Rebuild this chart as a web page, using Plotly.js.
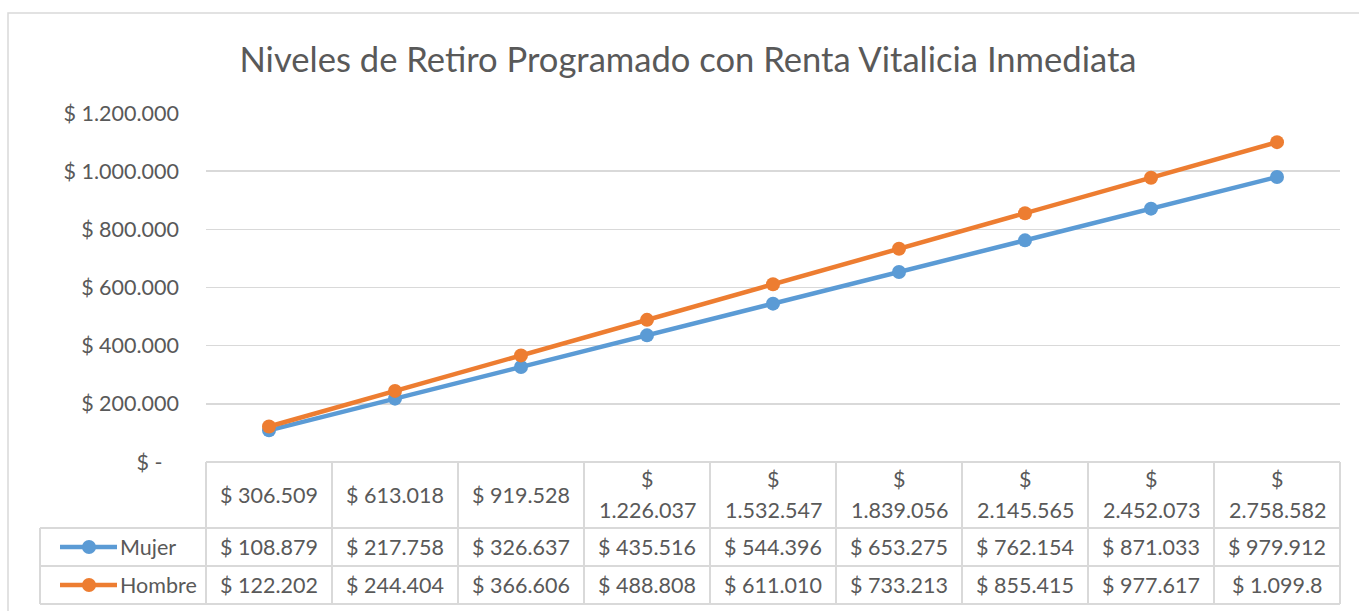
<!DOCTYPE html>
<html>
<head>
<meta charset="utf-8">
<script src="https://cdn.plot.ly/plotly-3.0.1.min.js"></script>
<style>
  html, body { margin: 0; padding: 0; background: #ffffff; }
  #chart { width: 1359px; height: 611px; }
</style>
</head>
<body>
<div id="chart"></div>
<script>
// ---- Data ----
const chartTitle = "Niveles de Retiro Programado con Renta Vitalicia Inmediata";
const xValues = [306509, 613018, 919528, 1226037, 1532547, 1839056, 2145565, 2452073, 2758582];
const seriesNames = ["Mujer", "Hombre"];
const mujer = [108879, 217758, 326637, 435516, 544396, 653275, 762154, 871033, 979912];
const hombre = [122202, 244404, 366606, 488808, 611010, 733213, 855415, 977617, 1099818];
const yTickVals = [0, 200000, 400000, 600000, 800000, 1000000, 1200000];
const yTickText = ["$ -\u00a0\u00a0\u00a0", "$ 200.000", "$ 400.000", "$ 600.000", "$ 800.000", "$ 1.000.000", "$ 1.200.000"];

// ---- Style ----
const colors = ["#5B9BD5", "#ED7D31"];
const textColor = "#595959";
const gridColor = "#d9d9d9";
const fontFamily = "Lato, 'Open Sans', sans-serif";
const fs = 21.5;

const W = 1359, H = 611;
const mL = 206, mR = 19, mT = 113, mB = 149;
const plotW = W - mL - mR, plotH = H - mT - mB;
const px2p = px => (px - mL) / plotW;
const py2p = py => (H - mB - py) / plotH;

function fmt(n) {
  return "$ " + String(n).replace(/\B(?=(\d{3})+(?!\d))/g, ".");
}

const n = xValues.length;
const idx = xValues.map((_, i) => i);

const traces = [mujer, hombre].map((vals, k) => ({
  type: "scatter",
  mode: "lines+markers",
  name: seriesNames[k],
  x: idx,
  y: vals,
  line: { color: colors[k], width: 4.5 },
  marker: { color: colors[k], size: 14 },
  cliponaxis: false,
  hoverinfo: "skip"
}));

// ---- Table geometry ----
const tableTop = 462, headerBottom = 528, row1Bottom = 566, row2Bottom = 604;
const legendLeft = 40;
const cellW = plotW / n;
const lineStyle = { color: gridColor, width: 2 };

const shapes = [];
// outer chart border
shapes.push({ type: "rect", xref: "paper", yref: "paper", x0: px2p(8), x1: px2p(1370), y0: py2p(13), y1: py2p(625),
  line: { color: gridColor, width: 1.5 }, layer: "below" });
// horizontals
shapes.push({ type: "line", xref: "paper", yref: "paper", x0: px2p(mL), x1: px2p(W - mR), y0: py2p(tableTop), y1: py2p(tableTop), line: lineStyle });
[headerBottom, row1Bottom, row2Bottom].forEach(py => {
  shapes.push({ type: "line", xref: "paper", yref: "paper", x0: px2p(legendLeft), x1: px2p(W - mR), y0: py2p(py), y1: py2p(py), line: lineStyle });
});
// verticals
shapes.push({ type: "line", xref: "paper", yref: "paper", x0: px2p(legendLeft), x1: px2p(legendLeft), y0: py2p(headerBottom), y1: py2p(row2Bottom), line: lineStyle });
for (let k = 0; k <= n; k++) {
  const px = mL + k * cellW;
  shapes.push({ type: "line", xref: "paper", yref: "paper", x0: px2p(px), x1: px2p(px), y0: py2p(tableTop), y1: py2p(row2Bottom), line: lineStyle });
}

const annotations = [];
const rowCenters = [(headerBottom + row1Bottom) / 2, (row1Bottom + row2Bottom) / 2];

// legend keys in the table
seriesNames.forEach((name, k) => {
  const cy = rowCenters[k];
  shapes.push({ type: "line", xref: "paper", yref: "paper", x0: px2p(60), x1: px2p(117), y0: py2p(cy), y1: py2p(cy),
    line: { color: colors[k], width: 4.5 } });
  shapes.push({ type: "circle", xref: "paper", yref: "paper", xsizemode: "pixel", ysizemode: "pixel",
    xanchor: px2p(89), yanchor: py2p(cy), x0: -7, x1: 7, y0: -7, y1: 7,
    fillcolor: colors[k], line: { color: colors[k], width: 0 } });
  annotations.push({ xref: "paper", yref: "paper", x: px2p(118), y: py2p(cy), xanchor: "left", yanchor: "middle",
    text: name, showarrow: false, font: { family: fontFamily, size: fs, color: textColor } });
});

// header row (x values), wrapped when too long for the cell
xValues.forEach((v, i) => {
  const s = fmt(v);
  const hc = (tableTop + headerBottom) / 2;
  if (s.length > 9) {
    annotations.push({ xref: "x", yref: "paper", x: i, y: py2p(479), xanchor: "center", yanchor: "middle",
      text: "$", showarrow: false, font: { family: fontFamily, size: fs, color: textColor } });
    annotations.push({ xref: "x", yref: "paper", x: i, y: py2p(510), xanchor: "center", yanchor: "middle",
      text: s.slice(2), showarrow: false, font: { family: fontFamily, size: fs, color: textColor } });
  } else {
    annotations.push({ xref: "x", yref: "paper", x: i, y: py2p(hc), xanchor: "center", yanchor: "middle",
      text: s, showarrow: false, font: { family: fontFamily, size: fs, color: textColor } });
  }
});

// series rows (values clipped to the cell width, as in the original)
[mujer, hombre].forEach((vals, k) => {
  vals.forEach((v, i) => {
    annotations.push({ xref: "x", yref: "paper", x: i, y: py2p(rowCenters[k]), xanchor: "center", yanchor: "middle",
      text: fmt(v).slice(0, 9), showarrow: false, font: { family: fontFamily, size: fs, color: textColor } });
  });
});

const layout = {
  width: W, height: H,
  margin: { l: mL, r: mR, t: mT, b: mB, pad: 0 },
  paper_bgcolor: "#ffffff",
  plot_bgcolor: "#ffffff",
  showlegend: false,
  title: {
    text: chartTitle,
    xref: "container", yref: "container",
    x: 688 / W, xanchor: "center",
    y: 1 - 60 / H, yanchor: "middle",
    font: { family: fontFamily, size: 34.6, color: textColor }
  },
  xaxis: {
    range: [-0.5, n - 0.5],
    showgrid: false, zeroline: false, showticklabels: false, showline: false, ticks: "",
    fixedrange: true
  },
  yaxis: {
    range: [0, 1200000],
    tickvals: yTickVals,
    ticktext: yTickText,
    showgrid: true, gridcolor: gridColor, gridwidth: 1.5,
    zeroline: false, showline: false, ticks: "",
    ticklabelstandoff: 26,
    tickfont: { family: fontFamily, size: fs, color: textColor },
    fixedrange: true
  },
  shapes: shapes,
  annotations: annotations,
  font: { family: fontFamily, color: textColor }
};

Plotly.newPlot("chart", traces, layout, { displayModeBar: false, staticPlot: true });
</script>
</body>
</html>
